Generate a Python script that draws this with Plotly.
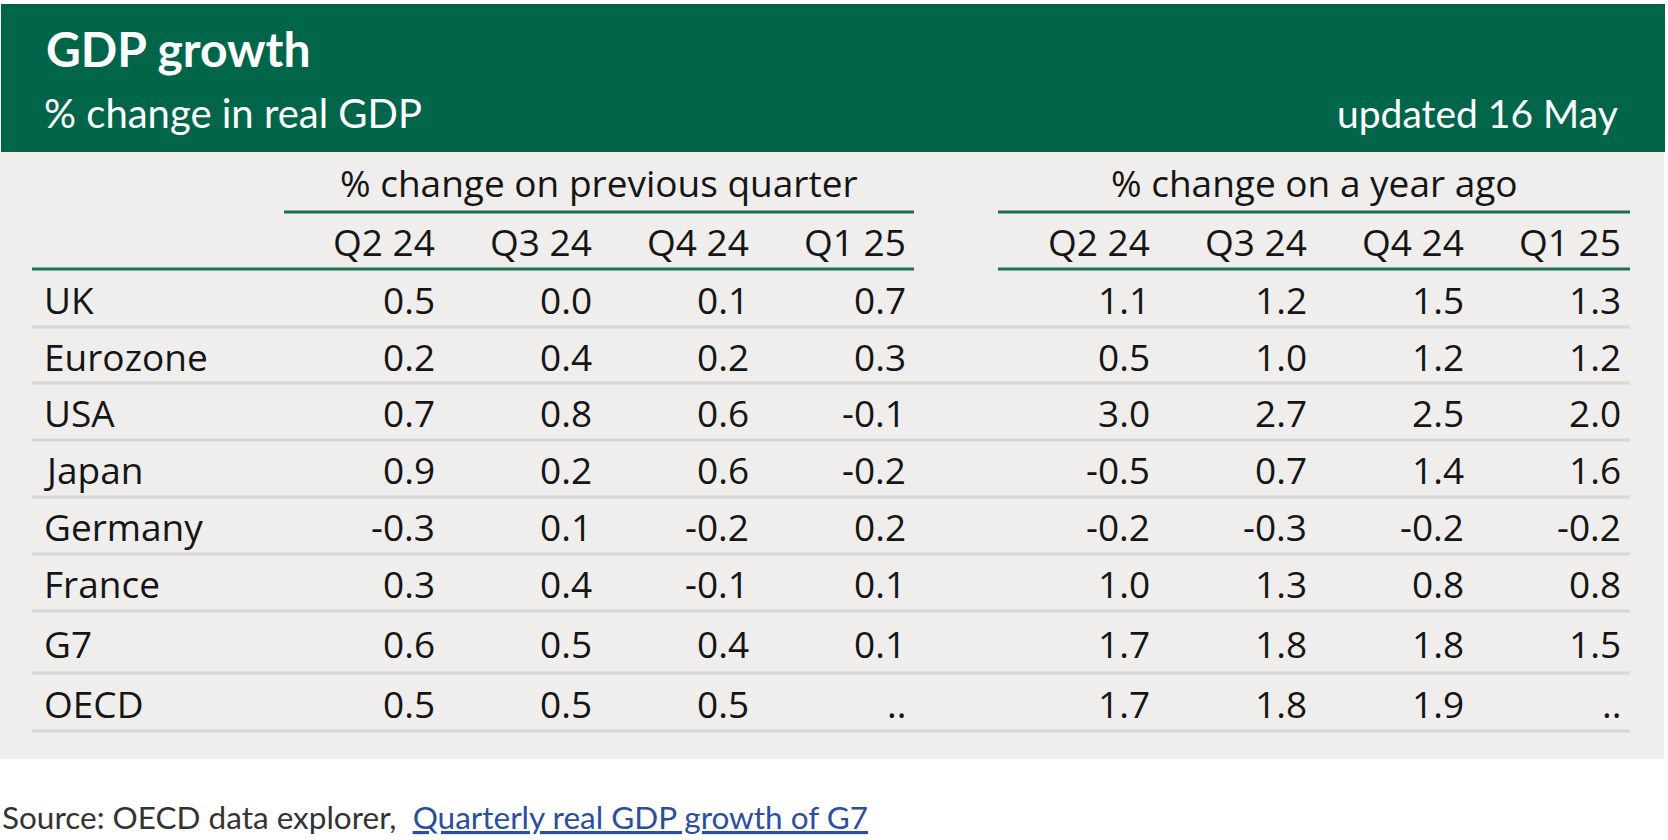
import plotly.graph_objects as go

# ---------------- data ----------------
countries = ["UK", "Eurozone", "USA", "Japan", "Germany", "France", "G7", "OECD"]
quarters = ["Q2 24", "Q3 24", "Q4 24", "Q1 25"]
group_titles = ["% change on previous quarter", "% change on a year ago"]

qoq_q2_24 = [0.5, 0.2, 0.7, 0.9, -0.3, 0.3, 0.6, 0.5]
qoq_q3_24 = [0.0, 0.4, 0.8, 0.2, 0.1, 0.4, 0.5, 0.5]
qoq_q4_24 = [0.1, 0.2, 0.6, 0.6, -0.2, -0.1, 0.4, 0.5]
qoq_q1_25 = [0.7, 0.3, -0.1, -0.2, 0.2, 0.1, 0.1, None]

yoy_q2_24 = [1.1, 0.5, 3.0, -0.5, -0.2, 1.0, 1.7, 1.7]
yoy_q3_24 = [1.2, 1.0, 2.7, 0.7, -0.3, 1.3, 1.8, 1.8]
yoy_q4_24 = [1.5, 1.2, 2.5, 1.4, -0.2, 0.8, 1.8, 1.9]
yoy_q1_25 = [1.3, 1.2, 2.0, 1.6, -0.2, 0.8, 1.5, None]

title = "GDP growth"
subtitle = "% change in real GDP"
updated = "updated 16 May"
source_text = "Source: OECD data explorer,"
source_link = "Quarterly real GDP growth of G7"

# ---------------- layout geometry ----------------
W, H = 1668, 840
GREEN = "#016649"
GREY_BG = "#efeeec"
RULE_GREEN = "#1e6e52"
RULE_GREY = "#d8d7d5"
TXT = "#151515"

groups = [
    {"title": group_titles[0], "cols": [qoq_q2_24, qoq_q3_24, qoq_q4_24, qoq_q1_25],
     "x0": 284, "x1": 914, "right0": 437},
    {"title": group_titles[1], "cols": [yoy_q2_24, yoy_q3_24, yoy_q4_24, yoy_q1_25],
     "x0": 998, "x1": 1630, "right0": 1152},
]
col_step = 157
table_left = 32
row_heights = [58, 56, 57, 57, 57, 57, 62, 58]
body_top = 269

FONT = "Open Sans"
HEAD_FONT = "Lato"
FS = 37

fig = go.Figure()
shapes = []
ann = []

# header band and table background
shapes.append(dict(type="rect", x0=1, x1=1665, y0=4, y1=152, fillcolor=GREEN, line_width=0, layer="below"))
shapes.append(dict(type="rect", x0=0, x1=1664, y0=152, y1=759, fillcolor=GREY_BG, line_width=0, layer="below"))

ann.append(dict(x=44, y=48, text="<b>" + title + "</b>", xanchor="left", yanchor="middle",
                font=dict(family=HEAD_FONT, size=48, color="white")))
ann.append(dict(x=42, y=113, text=subtitle, xanchor="left", yanchor="middle",
                font=dict(family=HEAD_FONT, size=40, color="white")))
ann.append(dict(x=1620, y=113, text=updated, xanchor="right", yanchor="middle",
                font=dict(family=HEAD_FONT, size=39, color="white")))

# row boundaries
bounds = [body_top]
for h in row_heights:
    bounds.append(bounds[-1] + h)

# group headers and rules
for gi, g in enumerate(groups):
    ann.append(dict(x=(g["x0"] + g["x1"]) / 2, y=182, text=g["title"], xanchor="center", yanchor="middle",
                    font=dict(family=FONT, size=FS, color=TXT)))
    shapes.append(dict(type="line", x0=g["x0"], x1=g["x1"], y0=212, y1=212,
                       line=dict(color=RULE_GREEN, width=3)))
    hx0 = table_left if gi == 0 else g["x0"]
    shapes.append(dict(type="line", x0=hx0, x1=g["x1"], y0=body_top, y1=body_top,
                       line=dict(color=RULE_GREEN, width=3)))
    for ci, q in enumerate(quarters):
        xr = g["right0"] + ci * col_step
        ann.append(dict(x=xr, y=241, text=q, xanchor="right", yanchor="middle",
                        font=dict(family=FONT, size=FS, color=TXT)))
        for ri, v in enumerate(g["cols"][ci]):
            yc = (bounds[ri] + bounds[ri + 1]) / 2 + 1
            txt = ".." if v is None else f"{v:.1f}"
            ann.append(dict(x=xr, y=yc, text=txt, xanchor="right", yanchor="middle",
                            font=dict(family=FONT, size=FS, color=TXT)))

# row labels and separators
for ri, c in enumerate(countries):
    yc = (bounds[ri] + bounds[ri + 1]) / 2 + 1
    ann.append(dict(x=42, y=yc, text=c, xanchor="left", yanchor="middle",
                    font=dict(family=FONT, size=FS, color=TXT)))
    shapes.append(dict(type="line", x0=table_left, x1=groups[1]["x1"], y0=bounds[ri + 1], y1=bounds[ri + 1],
                       line=dict(color=RULE_GREY, width=3)))

# source line
ann.append(dict(x=0, y=817, text=source_text + "  <span style='color:#2b4ea0'><u>" + source_link + "</u></span>",
                xanchor="left", yanchor="middle",
                font=dict(family=HEAD_FONT, size=31.5, color="#333333")))

for a in ann:
    a.update(xref="x", yref="y", showarrow=False)

fig.update_layout(
    width=W, height=H,
    margin=dict(l=0, r=0, t=0, b=0),
    paper_bgcolor="white", plot_bgcolor="white",
    xaxis=dict(range=[0, W], visible=False, fixedrange=True),
    yaxis=dict(range=[H, 0], visible=False, fixedrange=True),
    shapes=shapes, annotations=ann, showlegend=False,
)
fig.write_html("out.html", config={"displayModeBar": False},
               post_script="document.body.style.margin='0';document.body.style.overflow='hidden';")
